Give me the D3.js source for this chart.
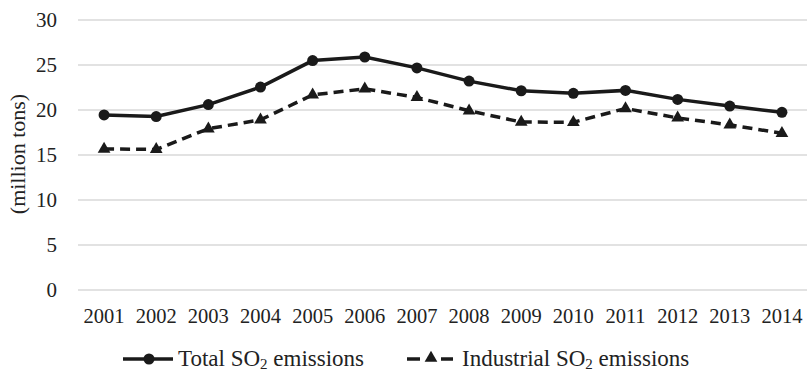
<!DOCTYPE html>
<html><head><meta charset="utf-8">
<script src="https://cdn.jsdelivr.net/npm/d3@7"></script>
<style>body{margin:0;background:#fff}svg{display:block}</style>
</head><body><svg id="c" width="807" height="371"></svg>
<script>
const years = ["2001","2002","2003","2004","2005","2006","2007","2008","2009","2010","2011","2012","2013","2014"];
const totalSO2 = [19.45,19.27,20.6,22.55,25.49,25.89,24.68,23.21,22.14,21.85,22.18,21.18,20.44,19.74];
const industrialSO2 = [15.67,15.62,17.92,18.91,21.68,22.35,21.40,19.91,18.66,18.64,20.17,19.12,18.35,17.41];
const yTicks = [0,5,10,15,20,25,30];
const seriesNames = ["Total", "Industrial"];

const FONT = "Liberation Serif";
const svg = d3.select("#c");
const x = d3.scaleBand().domain(years).range([78, 808]).padding(0);
const y = d3.scaleLinear().domain([0, 30]).range([290, 20]);
const ink = "#1a1a1a", txt = "#222";

svg.append("g").selectAll("line").data(yTicks).join("line")
  .attr("x1", 78).attr("x2", 807)
  .attr("y1", d => y(d)).attr("y2", d => y(d))
  .attr("stroke", "#d9d9d9").attr("stroke-width", 1.5);

svg.append("g").selectAll("text").data(yTicks).join("text")
  .attr("x", 57).attr("y", d => y(d)).attr("dy", "0.35em").attr("fill", txt)
  .style("font-family", FONT)
  .attr("text-anchor", "end").attr("font-size", 21).text(d => d);

svg.append("g").selectAll("text").data(years).join("text")
  .attr("x", d => x(d) + x.bandwidth() / 2).attr("y", 323).attr("fill", txt)
  .style("font-family", FONT)
  .attr("text-anchor", "middle").attr("font-size", 20.5).text(d => d);

svg.append("text").attr("transform", "translate(25,154) rotate(-90)").attr("fill", txt)
  .style("font-family", FONT)
  .attr("text-anchor", "middle").attr("font-size", 22).text("(million tons)");

const cx = d => x(d) + x.bandwidth() / 2;
const line = d3.line().x(d => cx(d[0])).y(d => y(d[1]));
const tot = years.map((yr, i) => [yr, totalSO2[i]]);
const ind = years.map((yr, i) => [yr, industrialSO2[i]]);

svg.append("path").datum(ind).attr("d", line).attr("fill", "none")
  .attr("stroke", ink).attr("stroke-width", 3.5).attr("stroke-dasharray", "10,6");
const tri = d3.symbol().type(d3.symbolTriangle).size(70);
svg.append("g").selectAll("path").data(ind).join("path")
  .attr("d", tri).attr("transform", d => `translate(${cx(d[0])},${y(d[1])})`).attr("fill", ink);

svg.append("path").datum(tot).attr("d", line).attr("fill", "none")
  .attr("stroke", ink).attr("stroke-width", 3.5);
svg.append("g").selectAll("circle").data(tot).join("circle")
  .attr("cx", d => cx(d[0])).attr("cy", d => y(d[1])).attr("r", 5.5).attr("fill", ink);

const lg = svg.append("g");
lg.append("line").attr("x1", 123).attr("x2", 173).attr("y1", 359).attr("y2", 359)
  .attr("stroke", ink).attr("stroke-width", 3.5);
lg.append("circle").attr("cx", 149).attr("cy", 359).attr("r", 5.5).attr("fill", ink);
const t1 = lg.append("text").attr("x", 178).attr("y", 366).attr("font-size", 23).attr("fill", txt).style("font-family", FONT);
t1.append("tspan").text(seriesNames[0] + " SO");
t1.append("tspan").attr("font-size", 15).attr("dy", 3).text("2");
t1.append("tspan").attr("dy", -3).text(" emissions");

lg.append("line").attr("x1", 407).attr("x2", 420).attr("y1", 359).attr("y2", 359)
  .attr("stroke", ink).attr("stroke-width", 3.5);
lg.append("line").attr("x1", 441).attr("x2", 453).attr("y1", 359).attr("y2", 359)
  .attr("stroke", ink).attr("stroke-width", 3.5);
lg.append("path").attr("d", tri).attr("transform", "translate(431,358)").attr("fill", ink);
const t2 = lg.append("text").attr("x", 462).attr("y", 366).attr("font-size", 23).attr("fill", txt).style("font-family", FONT);
t2.append("tspan").text(seriesNames[1] + " SO");
t2.append("tspan").attr("font-size", 15).attr("dy", 3).text("2");
t2.append("tspan").attr("dy", -3).text(" emissions");
</script></body></html>
